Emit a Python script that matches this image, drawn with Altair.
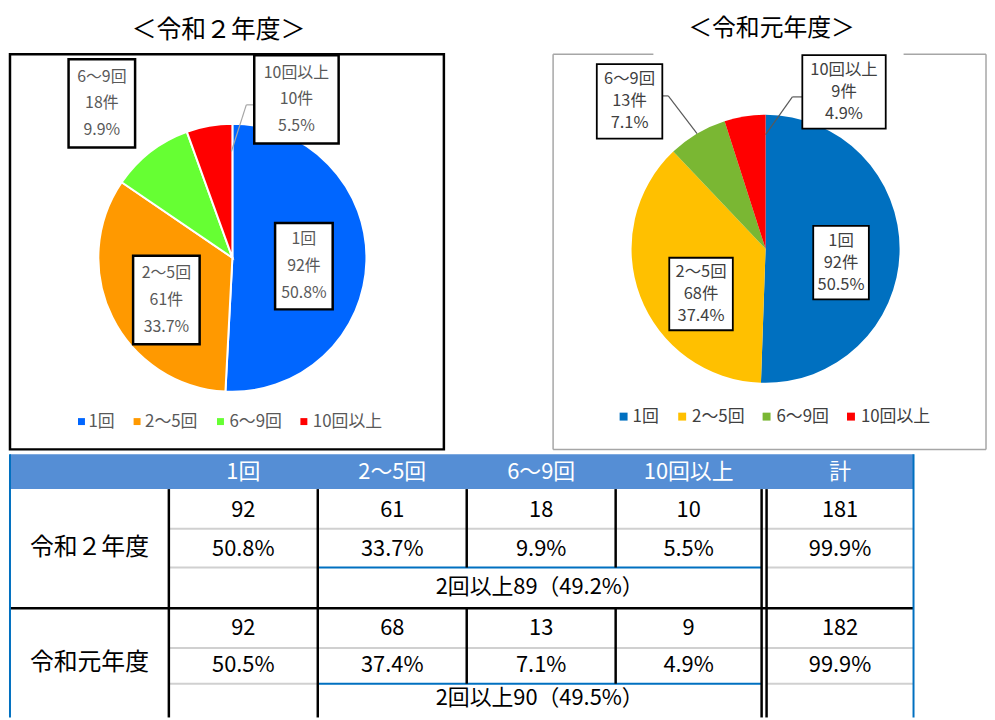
import altair as alt
import pandas as pd

# ---------------- data ----------------
categories = ["1回", "2～5回", "6～9回", "10回以上"]
counts_r2 = [92, 61, 18, 10]
pcts_r2 = [50.8, 33.7, 9.9, 5.5]
counts_r1 = [92, 68, 13, 9]
pcts_r1 = [50.5, 37.4, 7.1, 4.9]
year_labels = ["令和２年度", "令和元年度"]
chart_titles = ["＜令和２年度＞", "＜令和元年度＞"]
totals = [181, 182]
total_pcts = [99.9, 99.9]
multi_counts = [89, 90]
multi_pcts = [49.2, 49.5]
total_header = "計"

# ---------------- styles ----------------
FONT = "Noto Sans CJK JP"
colors_r2 = ["#0066FF", "#FF9900", "#66FF33", "#FF0000"]
colors_r1 = ["#0070C0", "#FFC000", "#7AB733", "#FF0000"]
HEADER_BLUE = "#558ED5"
LINE_BLUE = "#0070C0"
GRAY_LINE = "#D0D0D0"
TABLE_FS = 22

# ---------------- layout (reference pixel units) ----------------
W, H = 986, 710
X0, Y0 = 8, 8
xs = alt.Scale(domain=[X0, X0 + W], range=[0, W])
ys = alt.Scale(domain=[Y0, Y0 + H], range=[0, H])

pie_r2 = dict(cx=234, cy=257, r=135)
pie_r1 = dict(cx=771, cy=248, r=135)
boxes_r2 = [(277, 222, 335, 309), (134, 255, 201, 344), (69, 57, 136, 146), (256, 53, 341, 142)]
boxes_r1 = [(819, 225, 875, 299), (674, 257, 738, 330), (601, 62, 667, 137), (808, 53, 892, 127)]
leaders = [
    [(233, 150), (248, 103), (256, 103)],
    [(667, 94), (673, 94), (702, 132)],
    [(808, 95), (798, 95), (771, 133)],
]
legend_r2 = dict(y=422, sq=[82, 138, 222, 306], tx=[89, 146, 231, 315], size=17, color="#595959", sqsize=49)
legend_r1 = dict(y=417, sq=[628, 687, 772, 857], tx=[637, 697, 782, 867], size=17, color="#404040", sqsize=64)

col_edges = [10, 170, 320, 470, 620, 767, 772, 920]
col_centers = [245, 395, 545, 693.5, 846]
hdr_y = (455, 490)
rows = [dict(cnt=511, pct=550, multi=589, label=549, top=490, g1=530, g2=569, bottom=610),
        dict(cnt=630, pct=667, multi=700, label=665, top=610, g1=650, g2=686, bottom=720)]


def XY(x="x", y="y"):
    return dict(x=alt.X(f"{x}:Q", scale=xs, axis=None), y=alt.Y(f"{y}:Q", scale=ys, axis=None))


# ---------- pies ----------
def pie_layer(counts, colors, geo, stroke):
    df = pd.DataFrame({"cat": categories, "n": counts, "idx": list(range(len(counts))), "col": colors})
    kw = dict(radius=geo["r"])
    if stroke:
        kw.update(stroke="white", strokeWidth=2)
    return alt.Chart(df).mark_arc(**kw).encode(
        theta=alt.Theta("n:Q", stack="normalize"),
        order=alt.Order("idx:Q"),
        color=alt.Color("col:N", scale=None),
        x=alt.XDatum(geo["cx"], type="quantitative", scale=xs, axis=None),
        y=alt.YDatum(geo["cy"], type="quantitative", scale=ys, axis=None),
    )


# ---------- rectangles (boxes, panels, header) ----------
rects = []
for (x1, y1, x2, y2) in boxes_r2:
    rects.append(dict(x=x1, y=y1, x2=x2, y2=y2, fill="#FFFFFF", stroke="#000000", sw=2.5))
for (x1, y1, x2, y2) in boxes_r1:
    rects.append(dict(x=x1, y=y1, x2=x2, y2=y2, fill="#FFFFFF", stroke="#000000", sw=1.8))
rect_df = pd.DataFrame(rects)

panel_df = pd.DataFrame([dict(x=10, y=52, x2=447, y2=450, stroke="#000000", sw=2.5)])
hdr_df = pd.DataFrame([dict(x=col_edges[0], y=hdr_y[0], x2=col_edges[-1], y2=hdr_y[1], fill=HEADER_BLUE)])

# ---------- rules ----------
rules = []
def rule(x1, y1, x2, y2, color, sw):
    rules.append(dict(x=x1, y=y1, x2=x2, y2=y2, color=color, sw=sw))

# right panel border (gray, gap in top)
rule(557, 52, 658, 52, "#A6A6A6", 1.5)
rule(910, 52, 993, 52, "#A6A6A6", 1.5)
rule(557, 52, 557, 450, "#A6A6A6", 1.5)
rule(993, 52, 993, 450, "#A6A6A6", 1.5)
rule(557, 450, 993, 450, "#A6A6A6", 1.5)
# leader lines
for i, seg in enumerate(leaders):
    c = "#A6A6A6" if i == 0 else "#595959"
    for a, b in zip(seg[:-1], seg[1:]):
        rule(a[0], a[1], b[0], b[1], c, 1.2)
# table lines
for r in rows:
    rule(col_edges[1], r["g1"], col_edges[-1], r["g1"], GRAY_LINE, 2)
    rule(col_edges[1], r["g2"], col_edges[2], r["g2"], GRAY_LINE, 2)
    rule(col_edges[6], r["g2"], col_edges[-1], r["g2"], GRAY_LINE, 2)
    rule(col_edges[2], r["g2"], col_edges[5], r["g2"], LINE_BLUE, 2)
    for xe in (col_edges[1], col_edges[2], col_edges[5], col_edges[6]):
        rule(xe, r["top"], xe, r["bottom"], "#000000", 2.5)
    for xe in (col_edges[3], col_edges[4]):
        rule(xe, r["top"], xe, r["g2"], "#000000", 2.5)
rule(col_edges[0], rows[1]["top"], col_edges[-1], rows[1]["top"], "#000000", 2.5)
rule(col_edges[0], hdr_y[0], col_edges[0], 720, LINE_BLUE, 2)
rule(col_edges[-1], hdr_y[0], col_edges[-1], 720, LINE_BLUE, 2)
rule_df = pd.DataFrame(rules)

# ---------- texts ----------
texts = []
def txt(x, y, t, size, color):
    texts.append(dict(x=x, y=y, t=t, size=size, color=color))

txt(220, 28, chart_titles[0], 25, "#000000")
txt(777, 27, chart_titles[1], 24, "#000000")

for counts, pcts, boxes, lh, size, color in [
    (counts_r2, pcts_r2, boxes_r2, 27, 16, "#595959"),
    (counts_r1, pcts_r1, boxes_r1, 22, 16.5, "#404040"),
]:
    for i, cat in enumerate(categories):
        x1, y1, x2, y2 = boxes[i]
        cx, cy = (x1 + x2) / 2, (y1 + y2) / 2
        for k, line in enumerate([cat, f"{counts[i]}件", f"{pcts[i]}%"]):
            txt(cx, cy + (k - 1) * lh, line, size, color)

# table header
for c, lab in zip(col_centers, categories + [total_header]):
    txt(c, (hdr_y[0] + hdr_y[1]) / 2, lab, TABLE_FS, "#FFFFFF")
# table body
for r, yl, counts, pcts, tot, tp, mc, mp in zip(rows, year_labels, [counts_r2, counts_r1], [pcts_r2, pcts_r1],
                                                totals, total_pcts, multi_counts, multi_pcts):
    txt(90, r["label"], yl, 24, "#000000")
    for c, n, p in zip(col_centers, counts + [tot], pcts + [tp]):
        txt(c, r["cnt"], str(n), TABLE_FS, "#000000")
        txt(c, r["pct"], f"{p}%", TABLE_FS, "#000000")
    txt((col_edges[2] + col_edges[5]) / 2, r["multi"], f"2回以上{mc}（{mp}%）", TABLE_FS, "#000000")
text_df = pd.DataFrame(texts)

# legends
leg_sq, leg_tx = [], []
for leg, cols in [(legend_r2, colors_r2), (legend_r1, colors_r1)]:
    for i, cat in enumerate(categories):
        leg_sq.append(dict(x=leg["sq"][i], y=leg["y"], col=cols[i], s=leg["sqsize"]))
        leg_tx.append(dict(x=leg["tx"][i], y=leg["y"], t=cat, size=leg["size"], color=leg["color"]))
leg_sq_df = pd.DataFrame(leg_sq)
leg_tx_df = pd.DataFrame(leg_tx)

# ---------------- layers ----------------
panel = alt.Chart(panel_df).mark_rect(fillOpacity=0).encode(
    **XY(), x2="x2:Q", y2="y2:Q",
    stroke=alt.Stroke("stroke:N", scale=None), strokeWidth=alt.StrokeWidth("sw:Q", scale=None))
header = alt.Chart(hdr_df).mark_rect().encode(**XY(), x2="x2:Q", y2="y2:Q", color=alt.Color("fill:N", scale=None))
lines = alt.Chart(rule_df).mark_rule().encode(
    **XY(), x2="x2:Q", y2="y2:Q",
    color=alt.Color("color:N", scale=None), strokeWidth=alt.StrokeWidth("sw:Q", scale=None))
boxes = alt.Chart(rect_df).mark_rect().encode(
    **XY(), x2="x2:Q", y2="y2:Q", color=alt.Color("fill:N", scale=None),
    stroke=alt.Stroke("stroke:N", scale=None), strokeWidth=alt.StrokeWidth("sw:Q", scale=None))
labels = alt.Chart(text_df).mark_text(font=FONT, align="center", baseline="middle").encode(
    **XY(), text="t:N", size=alt.Size("size:Q", scale=None), color=alt.Color("color:N", scale=None))
squares = alt.Chart(leg_sq_df).mark_square(opacity=1).encode(
    **XY(), color=alt.Color("col:N", scale=None), size=alt.Size("s:Q", scale=None))
leg_labels = alt.Chart(leg_tx_df).mark_text(font=FONT, align="left", baseline="middle").encode(
    **XY(), text="t:N", size=alt.Size("size:Q", scale=None), color=alt.Color("color:N", scale=None))

chart = alt.layer(
    panel, header,
    pie_layer(counts_r2, colors_r2, pie_r2, True),
    pie_layer(counts_r1, colors_r1, pie_r1, False),
    lines, boxes, labels, squares, leg_labels,
).properties(
    width=W, height=H, padding=0, autosize=alt.AutoSizeParams(type="none"), background="white"
).configure_view(stroke=None)

chart.save("out.html", embed_options={"renderer": "svg", "actions": False})
